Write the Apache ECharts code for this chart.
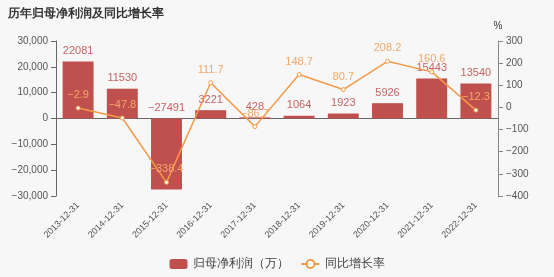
<!DOCTYPE html>
<html><head><meta charset="utf-8">
<script src="https://cdn.jsdelivr.net/npm/echarts@6/dist/echarts.min.js"></script>
<style>html,body{margin:0;padding:0;background:#f7f7f7}#c{width:554px;height:277px}</style>
</head><body><div id="c"></div>
<script>
var categories = ['2013-12-31','2014-12-31','2015-12-31','2016-12-31','2017-12-31','2018-12-31','2019-12-31','2020-12-31','2021-12-31','2022-12-31'];
var profit = [22081, 11530, -27491, 3221, 428, 1064, 1923, 5926, 15443, 13540];
var growth = [-2.9, -47.8, -338.4, 111.7, -86.7, 148.7, 80.7, 208.2, 160.6, -12.3];
var chart = echarts.init(document.getElementById('c'));
var font = 'sans-serif';
function minus(s){ return String(s).replace('-', '\u2212'); }
chart.setOption({
  backgroundColor: '#f7f7f7',
  animation: false,
  title: {text: '历年归母净利润及同比增长率', left: 3, top: 3, textStyle: {fontSize: 12, fontWeight: 'bold', color: '#333', fontFamily: font}},
  grid: {left: 56, right: 56, top: 41, bottom: 81},
  legend: {bottom: 2, left: 'center', itemWidth: 18, itemHeight: 10, itemGap: 12, textStyle: {fontSize: 12, color: '#444', fontFamily: font},
    data: [{name: '归母净利润（万）', icon: 'roundRect'}, {name: '同比增长率'}]},
  xAxis: {type: 'category', data: categories,
    axisLine: {lineStyle: {color: '#666'}}, axisTick: {lineStyle: {color: '#666'}},
    axisLabel: {rotate: 45, fontSize: 9, color: '#555', interval: 0, fontFamily: font}},
  yAxis: [
    {type: 'value', min: -30000, max: 30000, interval: 10000, splitLine: {show: false},
     axisLine: {show: true, lineStyle: {color: '#666'}}, axisTick: {show: true},
     axisLabel: {fontSize: 10, color: '#555', fontFamily: font,
       formatter: function(v){ return minus(echarts.format.addCommas(v)); }}},
    {type: 'value', min: -400, max: 300, interval: 100, name: '%', nameGap: 10,
     nameTextStyle: {color: '#333', fontSize: 10, fontFamily: font},
     splitLine: {show: false},
     axisLine: {show: true, lineStyle: {color: '#888'}}, axisTick: {show: true},
     axisLabel: {fontSize: 10, color: '#555', fontFamily: font, formatter: function(v){ return minus(v); }}}
  ],
  series: [
    {name: '归母净利润（万）', type: 'bar', data: profit, barWidth: '70%',
     itemStyle: {color: '#c0504d'},
     label: {show: true, position: 'top', fontSize: 11, color: '#c86464', fontFamily: font,
       formatter: function(p){ return minus(p.value); }}},
    {name: '同比增长率', type: 'line', yAxisIndex: 1, data: growth,
     symbol: 'circle', symbolSize: 4,
     lineStyle: {color: '#f39a4a', width: 1.5},
     itemStyle: {color: '#fff', borderColor: '#f39a4a', borderWidth: 1},
     label: {show: true, position: 'top', fontSize: 11, color: '#f4a86a', fontFamily: font,
       formatter: function(p){ return minus(p.value); }}}
  ]
});
</script></body></html>
